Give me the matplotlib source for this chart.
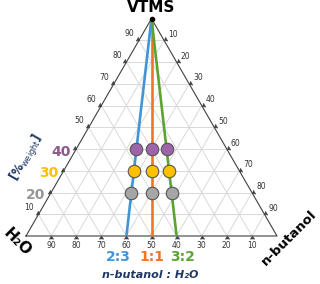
import numpy as np
import matplotlib.pyplot as plt
from matplotlib.markers import MarkerStyle
from matplotlib.transforms import Affine2D

# composition data (fractions)
vtms_levels = [0.2, 0.3, 0.4]                 # VTMS content of the samples
level_labels = ['20', '30', '40']
level_colors = ['#a6a6a6', '#ffc000', '#9e64a9']
level_text_colors = ['#969696', '#ffc000', '#8e5a8e']

ratio_labels = ['2:3', '1:1', '3:2']          # n-butanol : H2O
butanol_share = [0.4, 0.5, 0.6]               # n-butanol share of the solvent
ratio_colors = ['#4095d9', '#f47424', '#5aa532']

tick_values = [10, 20, 30, 40, 50, 60, 70, 80, 90]

H = np.sqrt(3) / 2
W_PX, H_PX = 320, 284
LEFT_PX, BASE_PX, SIDE_PX = 26, 236, 251


def tern(b, v):
    # b = n-butanol fraction, v = VTMS fraction (H2O is the rest)
    return b + v / 2, v * H


def px(x, y):
    # pixel (from top-left) -> data coords
    return (x - LEFT_PX) / SIDE_PX, (BASE_PX - y) / SIDE_PX


fig = plt.figure(figsize=(3.2, 2.84), dpi=100)
ax = fig.add_axes([0, 0, 1, 1])
ax.set_xlim(px(0, 0)[0], px(W_PX, 0)[0])
ax.set_ylim(px(0, H_PX)[1], px(0, 0)[1])
ax.axis('off')

# grid
gc = '#d9d9d9'
for t in np.array(tick_values) / 100:
    ax.plot(*zip(tern(0, t), tern(1 - t, t)), color=gc, lw=0.7, zorder=1)
    ax.plot(*zip(tern(t, 0), tern(t, 1 - t)), color=gc, lw=0.7, zorder=1)
    ax.plot(*zip(tern(0, t), tern(t, 0)), color=gc, lw=0.7, zorder=1)

# frame
corners = [tern(0, 0), tern(1, 0), tern(0, 1), tern(0, 0)]
ax.plot(*zip(*corners), color='#404040', lw=0.8, zorder=3)

# ticks and tick labels
caret = [(-1, -1.3), (0, 0), (1, -1.3)]
tk = dict(color='#404040', ms=4, mew=0.6, zorder=3, ls='none')
for val in tick_values:
    t = val / 100
    # bottom: H2O
    x, y = tern(1 - t, 0)
    ax.plot(x, y, marker=caret, **tk)
    ax.text(x, y - 9 / SIDE_PX, str(val), fontsize=5.5, ha='center', va='center', color='#333333')
    # left: VTMS
    x, y = tern(0, t)
    ax.plot(x, y, marker=MarkerStyle(caret, transform=Affine2D().rotate_deg(-120)), **tk)
    if val in (20, 30, 40):
        i = [20, 30, 40].index(val)
        ax.text(x - 5.5 / SIDE_PX, y - 2.5 / SIDE_PX, level_labels[i], fontsize=10, fontweight='bold',
                ha='right', va='center', color=level_text_colors[i])
    else:
        ax.text(x - 9.5 / SIDE_PX, y + 6.5 / SIDE_PX, str(val), fontsize=5.5, ha='center', va='center',
                color='#333333')
    # right: n-butanol
    x, y = tern(t, 1 - t)
    ax.plot(x, y, marker=MarkerStyle(caret, transform=Affine2D().rotate_deg(120)), **tk)
    ax.text(x + 9 / SIDE_PX, y + 6 / SIDE_PX, str(val), fontsize=5.5, ha='center', va='center',
            color='#333333')

# ratio lines from the VTMS corner
for b, c in zip(butanol_share, ratio_colors):
    ax.plot(*zip(tern(0, 1), tern(b, 0)), color=c, lw=1.9, zorder=4, solid_capstyle='butt')

# samples
for v, c in zip(vtms_levels, level_colors):
    for b in butanol_share:
        x, y = tern(b * (1 - v), v)
        ax.plot(x, y, 'o', ms=9, color=c, mec='#555555', mew=0.8, zorder=5)

ax.plot(*tern(0, 1), 'o', ms=3, color='black', zorder=6)

# labels
navy = '#1f3864'
ax.text(*px(151, 8), 'VTMS', fontsize=11, fontweight='bold', ha='center', va='center')
ax.text(*px(17, 242), 'H₂O', fontsize=11, fontweight='bold', ha='center', va='center', rotation=-45)
ax.text(*px(289, 238), 'n-butanol', fontsize=9.5, fontweight='bold', ha='center', va='center', rotation=45)
ax.text(*px(27, 158), r'[%$_{\mathrm{weight}}$]', fontsize=8.5, fontweight='bold', color=navy,
        ha='center', va='center', rotation=60)

for xp, lab, c in zip([118, 152, 183], ratio_labels, ratio_colors):
    ax.text(*px(xp, 257), lab, fontsize=10, fontweight='bold', color=c, ha='center', va='center')
ax.text(*px(150, 275), 'n-butanol : H₂O', fontsize=8, fontweight='bold', fontstyle='italic',
        color=navy, ha='center', va='center')

fig.savefig('out.png', dpi=100)
